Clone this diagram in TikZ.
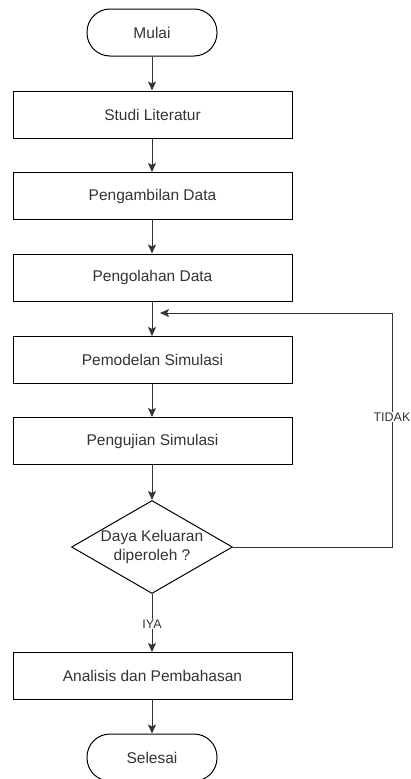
\documentclass[tikz,border=0pt]{standalone}
\usepackage{fontspec}
\setmainfont{Liberation Sans}
\usetikzlibrary{shapes.geometric,arrows.meta}
\definecolor{txt}{HTML}{333333}
\tikzset{
  every node/.style={font=\fontsize{15.5}{19}\selectfont, text=txt},
  procbox/.style={draw=black, line width=1pt, rectangle, inner sep=0pt,
    minimum width=279pt, minimum height=47pt},
  termbox/.style={draw=black, line width=1pt, rectangle, rounded corners=23pt,
    inner sep=0pt, minimum width=130pt, minimum height=47pt},
  decbox/.style={draw=black, line width=1pt, diamond, inner sep=0pt,
    minimum width=161pt, minimum height=93pt},
  conn/.style={draw=black!80, line width=1pt, -{Stealth[length=9pt,width=8pt,inset=2pt]}},
  lbl/.style={fill=white, inner sep=1pt, font=\fontsize{12.5}{14}\selectfont}
}
\begin{document}
\begin{tikzpicture}[x=1pt,y=-1pt]
\useasboundingbox (0,0) rectangle (410,779);
\node[termbox] (mulai) at (152,32.5) {Mulai};
\node[procbox] (studi) at (152.5,114.5) {Studi Literatur};
\node[procbox] (ambil) at (152.5,196) {Pengambilan Data};
\node[procbox] (olah) at (152.5,277.5) {Pengolahan Data};
\node[procbox] (model) at (152.5,360) {Pemodelan Simulasi};
\node[procbox] (uji) at (152.5,441) {Pengujian Simulasi};
\node[decbox, label={[align=center]center:Daya Keluaran\\diperoleh ?}] (dec) at (152,547) {};
\node[procbox] (anal) at (152.5,676) {Analisis dan Pembahasan};
\node[termbox] (selesai) at (152,757.5) {Selesai};

\coordinate (c1) at (392,547);
\coordinate (c2) at (392,313);
\coordinate (c3) at (160,313);

\draw[conn] (mulai.south) -- (mulai.south |- studi.north);
\draw[conn] (studi.south -| mulai.south) -- (mulai.south |- ambil.north);
\draw[conn] (ambil.south -| mulai.south) -- (mulai.south |- olah.north);
\draw[conn] (olah.south -| mulai.south) -- (mulai.south |- model.north);
\draw[conn] (model.south -| mulai.south) -- (mulai.south |- uji.north);
\draw[conn] (uji.south -| mulai.south) -- (dec.north);
\draw[conn] (dec.south) -- node[lbl, pos=0.52] {IYA} (dec.south |- anal.north);
\draw[conn] (anal.south -| mulai.south) -- (selesai.north);
\draw[conn] (dec.east) -- (c1) -- (c2) -- (c3);
\node[lbl] (tidak) at (392,417) {TIDAK};
\end{tikzpicture}
\end{document}
